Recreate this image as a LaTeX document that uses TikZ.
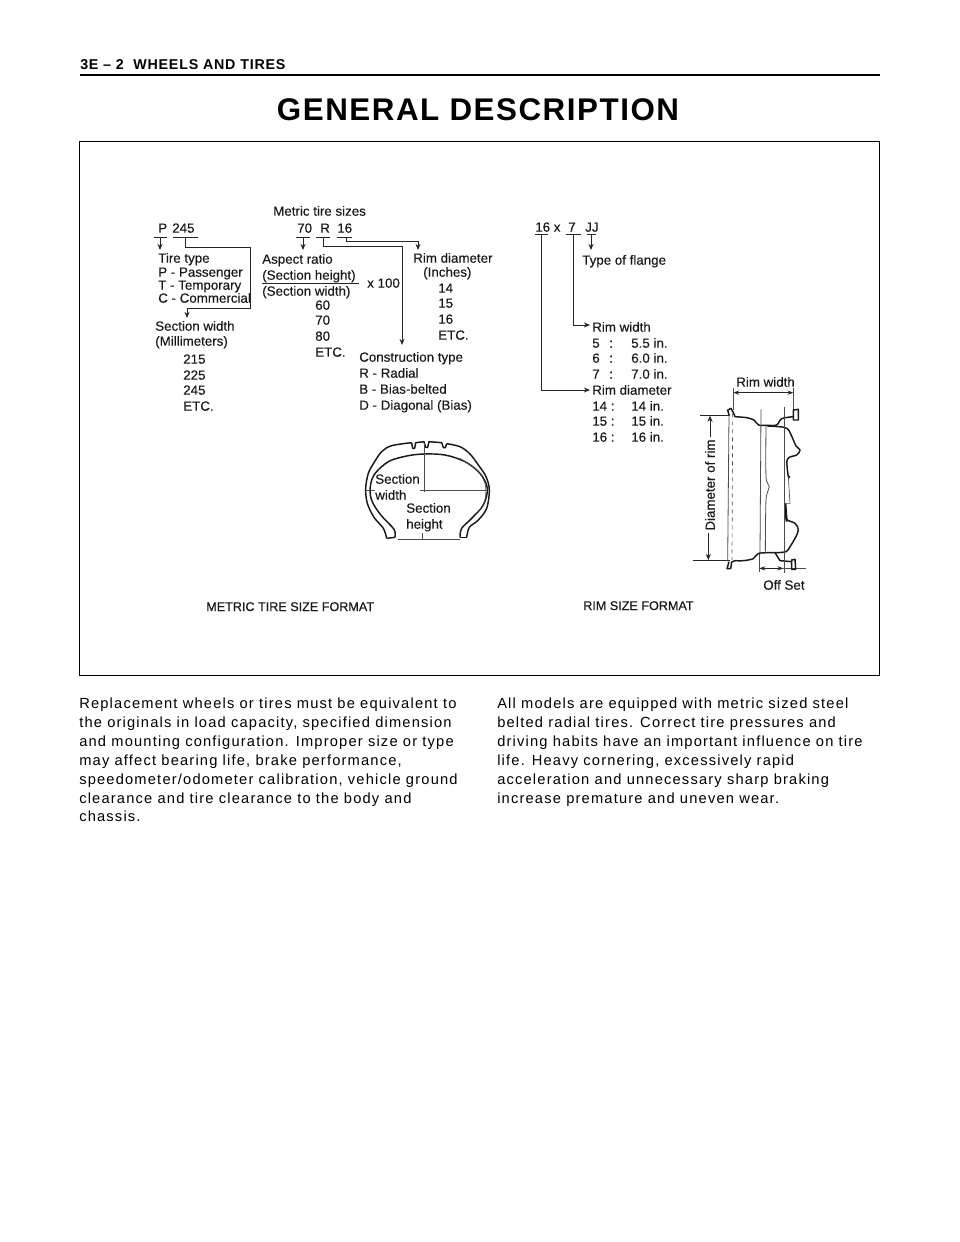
\documentclass[tikz,border=0pt]{standalone}
\usepackage{fontspec}
\setmainfont{Liberation Sans}
\newfontfamily\bodyf[LetterSpace=8.1]{Liberation Sans}
\newfontfamily\figf[FakeBold=0.2]{Liberation Sans}
\newfontfamily\capf[FakeBold=0.5]{Liberation Sans}
\newfontfamily\headf[LetterSpace=5.5]{Liberation Sans Bold}
\newfontfamily\titlef[LetterSpace=4.9]{Liberation Sans Bold}
\usetikzlibrary{arrows.meta}
\tikzset{
 x=0.75pt,y=-0.75pt,
 lab/.style={anchor=base west,inner sep=0pt,font=\figf\fontsize{10pt}{11pt}\selectfont,text=black!90},
 caption/.style={anchor=base west,inner sep=0pt,font=\capf\fontsize{9.45pt}{10pt}\selectfont,text=black!90},
 body/.style={anchor=base west,inner sep=0pt,font=\bodyf\fontsize{11pt}{13pt}\selectfont},
 wire/.style={line width=0.7pt,black!85},
 arr/.style={wire,-{Stealth[length=4.6pt,width=3.8pt]}},
 dim/.style={line width=0.6pt,black!85,{Stealth[length=4.4pt,width=3.2pt]}-{Stealth[length=4.4pt,width=3.2pt]}},
 thin line/.style={line width=0.5pt,black!70},
 prof/.style={line width=1.1pt,black!90,line join=round},
}
\newcommand{\Lb}[4]{\node[lab] (#1) at (#2,#3+4.7) {#4};}
\newcommand{\Bd}[4]{\node[body] (#1) at (#2,#3+5) {#4};}
\begin{document}
\begin{tikzpicture}
\useasboundingbox (0,0) rectangle (960,1242);
\fill[white] (0,0) rectangle (960,1242);
% header
\node[anchor=base west,inner sep=0pt,font=\headf\fontsize{10.7pt}{12pt}\selectfont] (head) at (80,69) {3E – 2\ \ WHEELS AND TIRES};
\coordinate (hl) at (80,75); \coordinate (hr) at (880,75);
\draw[line width=1.5pt] (hl) -- (hr);
\node[inner sep=0pt,font=\titlef\fontsize{23.5pt}{26pt}\selectfont,text=black] (title) at (478,110) {GENERAL DESCRIPTION};
\node[draw,line width=0.8pt,minimum width=600pt,minimum height=400pt,inner sep=0pt] (frame) at (479.5,408.5) {};
% left labels
\Lb{ms}{273}{211}{Metric tire sizes}
\Lb{p}{158}{228}{P}\Lb{n245}{172}{228}{245}
\Lb{n70}{297}{228}{70}\Lb{r}{320}{228}{R}\Lb{n16}{337}{228}{16}
\Lb{tt}{158}{258}{Tire type}\Lb{tp}{158}{272}{P - Passenger}\Lb{tt2}{158}{285}{T - Temporary}\Lb{tc}{158}{298}{C - Commercial}
\Lb{sw}{155}{326}{Section width}\Lb{mm}{155}{341}{(Millimeters)}
\Lb{a215}{183}{359}{215}\Lb{a225}{183}{375}{225}\Lb{a245}{183}{390}{245}\Lb{aetc}{183}{406}{ETC.}
\Lb{ar}{262}{259}{Aspect ratio}\Lb{sh}{262}{275}{(Section height)}\Lb{sw2}{262}{291}{(Section width)}\Lb{x100}{367}{283}{x 100}
\Lb{b60}{315}{305}{60}\Lb{b70}{315}{320}{70}\Lb{b80}{315}{336}{80}\Lb{betc}{315}{352}{ETC.}
\Lb{rd}{413}{258}{Rim diameter}\Lb{inch}{423}{272}{(Inches)}
\Lb{c14}{438}{288}{14}\Lb{c15}{438}{303}{15}\Lb{c16}{438}{319}{16}\Lb{cetc}{438}{335}{ETC.}
\Lb{ct}{359}{357}{Construction type}\Lb{cr}{359}{373}{R - Radial}\Lb{cb}{359}{389}{B - Bias-belted}\Lb{cd}{359}{405}{D - Diagonal (Bias)}
% left connectors
\foreach \n/\a/\b in {up/154/167,u245/173/198,u70/296/310,ur/316/330,u16/337/352}{
 \coordinate (\n a) at (\a,237); \coordinate (\n b) at (\b,237);
 \draw[wire] (\n a) -- (\n b);}
\coordinate (pa) at (160,237); \coordinate (pb) at (160,250);
\draw[arr] (pa) -- (pb);
\coordinate (wa) at (185,237); \coordinate (wb) at (185,247); \coordinate (wc) at (250.5,247); \coordinate (wd) at (250.5,308); \coordinate (we) at (187,308); \coordinate (wf) at (187,318);
\draw[arr] (wa) -- (wb) -- (wc) -- (wd) -- (we) -- (wf);
\coordinate (ta) at (303,237); \coordinate (tb) at (303,250);
\draw[arr] (ta) -- (tb);
\coordinate (ra) at (323,237); \coordinate (rb) at (323,246); \coordinate (rc) at (402,246); \coordinate (rd2) at (402,345);
\draw[arr] (ra) -- (rb) -- (rc) -- (rd2);
\coordinate (sa) at (346,237); \coordinate (sb) at (346,241); \coordinate (sc) at (418,241); \coordinate (sd) at (418,250);
\draw[arr] (sa) -- (sb) -- (sc) -- (sd);
\coordinate (fa) at (262,283); \coordinate (fb) at (359,283);
\draw[wire] (fa) -- (fb);
% tyre
\begin{scope}[shift={(350,430)},x=0.25pt,y=-0.25pt]
 \draw[prof] plot[smooth,tension=.55] coordinates {(110,325)(100,295)(72,262)(52,220)(47,175)(55,130)(72,98)(95,65)(125,47)(185,38)};
 \draw[prof] (185,38)--(188,55)--(194,55)--(197,38)--(222,35)--(227,52)--(233,52)--(237,35)--(275,38)--(280,53)--(286,53)--(290,41);
 \draw[prof] plot[smooth,tension=.55] coordinates {(290,41)(330,50)(360,72)(385,105)(408,140)(418,180)(410,235)(385,270)(358,292)(350,322)};
 \draw[prof] plot[smooth,tension=.55] coordinates {(135,322)(132,298)(95,258)(68,218)(60,180)(72,135)(115,95)(170,78)(222,72)(285,75)(345,95)(390,130)(412,175)(400,225)(365,265)(335,295)(330,322)};
 \draw[prof] (110,325)--(135,322);
 \draw[prof] (330,322)--(350,322);
 \draw[thin line] plot[smooth,tension=.55] coordinates {(330,85)(380,120)(405,160)(405,210)(385,245)};
 \coordinate (va) at (222,40); \coordinate (vb) at (222,185);
 \draw[thin line,line width=.6pt] (va) -- (vb);
 \coordinate (ha) at (48,182); \coordinate (hb) at (75,182); \coordinate (hc) at (210,182); \coordinate (hd) at (412,182);
 \draw[thin line,line width=.6pt] (ha) -- (hb) (hc) -- (hd);
 \coordinate (ba) at (145,328); \coordinate (bb) at (330,328);
 \draw[thin line,line width=.6pt] (ba) -- (bb);
 \coordinate (bc) at (218,310); \coordinate (bd) at (218,328);
 \draw[thin line,line width=.6pt] (bc) -- (bd);
\end{scope}
\Lb{t1}{375}{479}{Section}\Lb{t2}{375}{495}{width}\Lb{t3}{406}{508}{Section}\Lb{t4}{406}{524}{height}
% right labels
\Lb{r16}{535}{227}{16 x}\Lb{r7}{568}{227}{7}\Lb{rjj}{585}{227}{JJ}
\Lb{tf}{582}{260}{Type of flange}
\Lb{rw}{592}{327}{Rim width}
\Lb{w5}{592}{343}{5}\Lb{w5c}{609}{343}{:}\Lb{w5v}{631}{343}{5.5 in.}
\Lb{w6}{592}{358}{6}\Lb{w6c}{609}{358}{:}\Lb{w6v}{631}{358}{6.0 in.}
\Lb{w7}{592}{374}{7}\Lb{w7c}{609}{374}{:}\Lb{w7v}{631}{374}{7.0 in.}
\Lb{rdm}{592}{390}{Rim diameter}
\Lb{d14}{592}{406}{14 :}\Lb{d14v}{631}{406}{14 in.}
\Lb{d15}{592}{421}{15 :}\Lb{d15v}{631}{421}{15 in.}
\Lb{d16}{592}{437}{16 :}\Lb{d16v}{631}{437}{16 in.}
\foreach \n/\a/\b in {v16/535/548,v7/566/581,vj/587/596}{
 \coordinate (\n a) at (\a,234.5); \coordinate (\n b) at (\b,234.5);
 \draw[wire] (\n a) -- (\n b);}
\coordinate (ja) at (591,234.5); \coordinate (jb) at (591,250);
\draw[arr] (ja) -- (jb);
\coordinate (qa) at (573,234.5); \coordinate (qb) at (573,325); \coordinate (qc) at (590,325);
\draw[arr] (qa) -- (qb) -- (qc);
\coordinate (ka) at (541,234.5); \coordinate (kb) at (541,390); \coordinate (kc) at (590,390);
\draw[arr] (ka) -- (kb) -- (kc);
% rim
\Lb{rw2}{736}{382}{Rim width}
\Lb{os}{763}{585}{Off Set}
\node[lab,anchor=center,rotate=90,inner sep=2pt] (dor) at (710,485) {Diameter of rim};
\begin{scope}[shift={(680,370)},x=0.25pt,y=-0.25pt]
 \coordinate (e1a) at (160,55); \coordinate (e1b) at (160,120);
 \coordinate (e2a) at (340,55); \coordinate (e2b) at (340,130);
 \draw[thin line] (e1a) -- (e1b) (e2a) -- (e2b);
 \coordinate (d1) at (160,68); \coordinate (d2) at (340,68);
 \draw[dim] (d1) -- (d2);
 \coordinate (h1a) at (60,137); \coordinate (h1b) at (150,137);
 \coordinate (h2a) at (38,570); \coordinate (h2b) at (150,570);
 \draw[wire] (h1a) -- (h1b) (h2a) -- (h2b);
 \coordinate (v1a) at (90,200); \coordinate (v1b) at (90,137);
 \coordinate (v2a) at (85,490); \coordinate (v2b) at (85,570);
 \draw[arr,line width=.55pt] (v1a) -- (v1b);
 \draw[arr,line width=.55pt] (v2a) -- (v2b);
 \coordinate (o1) at (238,595); \coordinate (o2) at (310,595); \coordinate (o3) at (378,595);
 \draw[dim] (o1) -- (o2);
 \draw[thin line] (o2) -- (o3);
 \coordinate (x1a) at (238,550); \coordinate (x1b) at (238,606);
 \draw[thin line] (x1a) -- (x1b);
 % profile, upper
 \draw[prof] (147,135)--(143,120)--(153,115)--(160,128)--(165,140);
 \draw[prof] plot[smooth,tension=.5] coordinates {(165,140)(200,143)(222,150)(236,165)(262,166)(290,165)(305,146)(340,140)};
 \draw[prof] (340,120)--(355,118)--(355,150)--(340,150)--cycle;
 % disc
 \draw[prof] plot[smooth,tension=.6] coordinates {(262,168)(295,170)(322,176)(338,205)(348,228)(360,240)(350,255)(322,268)(325,320)};
 \draw[prof] plot[smooth,tension=.6] coordinates {(316,400)(318,445)(345,460)(355,480)(345,505)(330,530)(318,545)(285,548)};
 \draw[line width=1.6pt,black!90] (325,320)--(330,322) (316,400)--(320,455);
 \draw[thin line] (325,320)--(330,400)--(316,400);
 % profile, lower
 \draw[prof] plot[smooth,tension=.5] coordinates {(285,548)(236,550)(220,566)(190,572)(165,572)};
 \draw[prof] (165,572)--(155,576)--(152,596)--(141,596)--(147,575);
 \draw[prof] (285,548)--(300,572)--(335,575);
 \draw[prof] (335,570)--(345,568)--(347,598)--(335,598)--cycle;
 % verticals
 \draw[thin line,line width=.6pt] (147,135)--(143,575);
 \draw[thin line,dashed] (158,130)--(156,570);
 \draw[thin line,line width=.6pt] (243,118)--(240,550);
 \draw[thin line,line width=.6pt] plot[smooth] coordinates {(258,168)(258,320)(268,350)(258,390)(256,548)};
 \draw[thin line,line width=.6pt] (312,110)--(312,610);
\end{scope}
\node[caption] (cap1) at (206,611) {METRIC TIRE SIZE FORMAT};
\node[caption] (cap2) at (583,610) {RIM SIZE FORMAT};
% body
\Bd{l1}{79}{703}{Replacement wheels or tires must be equivalent to}
\Bd{l2}{79}{722}{the originals in load capacity, specified dimension}
\Bd{l3}{79}{741}{and mounting configuration. Improper size or type}
\Bd{l4}{79}{760}{may affect bearing life, brake performance,}
\Bd{l5}{79}{779}{speedometer/odometer calibration, vehicle ground}
\Bd{l6}{79}{798}{clearance and tire clearance to the body and}
\Bd{l7}{79}{816}{chassis.}
\Bd{m1}{497}{703}{All models are equipped with metric sized steel}
\Bd{m2}{497}{722}{belted radial tires. Correct tire pressures and}
\Bd{m3}{497}{741}{driving habits have an important influence on tire}
\Bd{m4}{497}{760}{life. Heavy cornering, excessively rapid}
\Bd{m5}{497}{779}{acceleration and unnecessary sharp braking}
\Bd{m6}{497}{798}{increase premature and uneven wear.}
\end{tikzpicture}
\end{document}
